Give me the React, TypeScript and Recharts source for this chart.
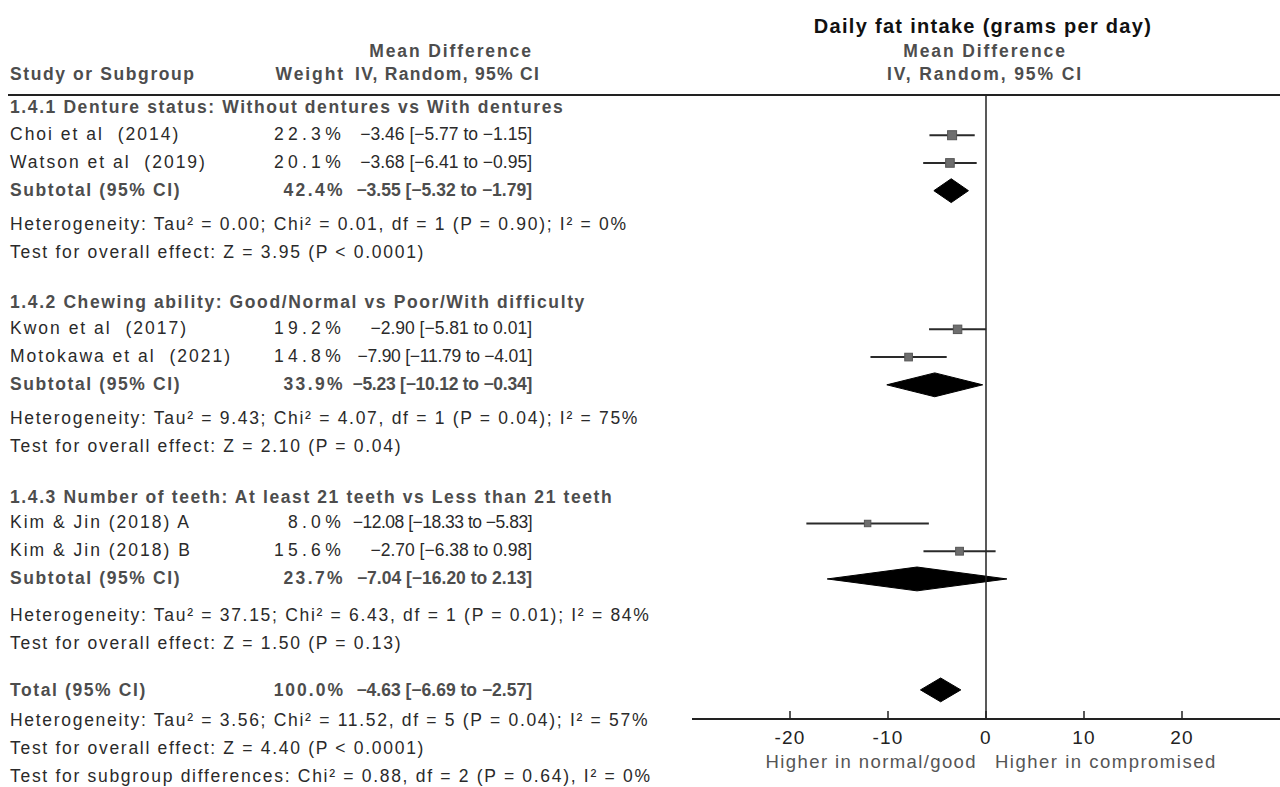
import React from "react";
import { Area, ComposedChart, ErrorBar, ReferenceLine, Scatter, XAxis, YAxis } from "recharts";

// forest plot: daily fat intake, mean difference (IV, random, 95% CI)
const groupTitles = [
  "1.4.1 Denture status: Without dentures vs With dentures",
  "1.4.2 Chewing ability: Good/Normal vs Poor/With difficulty",
  "1.4.3 Number of teeth: At least 21 teeth vs Less than 21 teeth",
];
const groupTitleRows = [0, 7, 14.05];

const studyNames = [
  "Choi et al  (2014)",
  "Watson et al  (2019)",
  "Kwon et al  (2017)",
  "Motokawa et al  (2021)",
  "Kim & Jin (2018) A",
  "Kim & Jin (2018) B",
];
const studyRows = [1, 2, 8, 9, 15, 16];
const studyWeights = [22.3, 20.1, 19.2, 14.8, 8.0, 15.6];
const studyMd = [-3.46, -3.68, -2.9, -7.9, -12.08, -2.7];
const studyLow = [-5.77, -6.41, -5.81, -11.79, -18.33, -6.38];
const studyHigh = [-1.15, -0.95, 0.01, -4.01, -5.83, 0.98];

const subtotalRows = [3, 10, 17];
const subtotalWeights = [42.4, 33.9, 23.7];
const subtotalMd = [-3.55, -5.23, -7.04];
const subtotalLow = [-5.32, -10.12, -16.2];
const subtotalHigh = [-1.79, -0.34, 2.13];

const totalRow = 21;
const totalWeight = 100.0;
const totalMd = -4.63;
const totalLow = -6.69;
const totalHigh = -2.57;

const hetTexts = [
  "Heterogeneity: Tau² = 0.00; Chi² = 0.01, df = 1 (P = 0.90); I² = 0%",
  "Heterogeneity: Tau² = 9.43; Chi² = 4.07, df = 1 (P = 0.04); I² = 75%",
  "Heterogeneity: Tau² = 37.15; Chi² = 6.43, df = 1 (P = 0.01); I² = 84%",
];
const hetRows = [4.2, 11.2, 18.3];
const effectTexts = [
  "Test for overall effect: Z = 3.95 (P < 0.0001)",
  "Test for overall effect: Z = 2.10 (P = 0.04)",
  "Test for overall effect: Z = 1.50 (P = 0.13)",
];
const effectRows = [5.2, 12.2, 19.3];
const totalNotes = [
  "Heterogeneity: Tau² = 3.56; Chi² = 11.52, df = 5 (P = 0.04); I² = 57%",
  "Test for overall effect: Z = 4.40 (P < 0.0001)",
  "Test for subgroup differences: Chi² = 0.88, df = 2 (P = 0.64), I² = 0%",
];
const totalNoteRows = [22.1, 23.1, 24.1];

const xTicks = [-20, -10, 0, 10, 20];

const W = 1280;
const H = 787;
const PLOT_LEFT = 692;
const PLOT_TOP = 95;
const PLOT_BOTTOM = 719;
const Y_MIN = -0.45;
const Y_MAX = 22.05;
const DIAMOND_HALF = 0.43;

const FONT = '"Liberation Sans", Arial, Helvetica, sans-serif';
const TEXT = "#2a2a2a";
const BOLD = "#4d4d4d";

const rowPx = (r: number) => PLOT_TOP + ((r - Y_MIN) / (Y_MAX - Y_MIN)) * (PLOT_BOTTOM - PLOT_TOP);
const fmt = (v: number) => (v < 0 ? "\u2212" : "") + Math.abs(v).toFixed(2);
const ciText = (m: number, l: number, h: number) => `${fmt(m)} [${fmt(l)} to ${fmt(h)}]`;
const pct = (w: number) => `${w.toFixed(1)}%`;
// longer CI strings are set a little tighter, as in the original
const ciSpacing = (s: string) => -Math.max(0, s.length - 22) * 0.25;

const studyPoints = studyNames.map((name, i) => ({
  name,
  x: studyMd[i],
  y: studyRows[i],
  w: studyWeights[i],
  err: [studyMd[i] - studyLow[i], studyHigh[i] - studyMd[i]],
}));

const diamond = (row: number, md: number, lo: number, hi: number) => [
  { x: lo, d: [row, row] },
  { x: md, d: [row - DIAMOND_HALF, row + DIAMOND_HALF] },
  { x: hi, d: [row, row] },
];

const pooled = [
  ...subtotalRows.map((r, i) => diamond(r, subtotalMd[i], subtotalLow[i], subtotalHigh[i])),
  diamond(totalRow, totalMd, totalLow, totalHigh),
];

function Square(props: any) {
  const { cx, cy, payload } = props;
  const s = 5 + payload.w * 0.18;
  return <rect x={cx - s / 2} y={cy - s / 2} width={s} height={s} fill="#6e6e6e" stroke="#555" strokeWidth={1} />;
}

function AxisTick(props: any) {
  const { x, y, payload } = props;
  return (
    <g>
      <line x1={x} x2={x} y1={y - 8} y2={y} stroke="#222" strokeWidth={1.5} />
      <text x={x} y={y + 25} textAnchor="middle" fill="#222" fontSize={19} letterSpacing={1.2} fontFamily={FONT}>
        {payload.value}
      </text>
    </g>
  );
}

type TProps = {
  x: number;
  y: number;
  text: string;
  align?: "left" | "right" | "center";
  bold?: boolean;
  color?: string;
  size?: number;
  spacing?: number;
};

function T({ x, y, text, align = "left", bold = false, color, size = 17.5, spacing }: TProps) {
  const style: React.CSSProperties = {
    position: "absolute",
    top: y - 12,
    height: 24,
    lineHeight: "24px",
    fontFamily: FONT,
    fontSize: size,
    fontWeight: bold ? 700 : 400,
    letterSpacing: spacing ?? (bold ? 1.6 : 1.7),
    color: color ?? (bold ? BOLD : TEXT),
    whiteSpace: "pre",
  };
  if (align === "left") style.left = x;
  if (align === "right") style.right = W - x;
  if (align === "center") {
    style.left = x - 400;
    style.width = 800;
    style.textAlign = "center";
  }
  return <div style={style}>{text}</div>;
}

export default function App() {
  const nameX = 10;
  const weightX = 345;
  const ciX = 532;
  const studyCi = studyNames.map((_, i) => ciText(studyMd[i], studyLow[i], studyHigh[i]));
  const subtotalCi = subtotalRows.map((_, i) => ciText(subtotalMd[i], subtotalLow[i], subtotalHigh[i]));
  const totalCi = ciText(totalMd, totalLow, totalHigh);
  return (
    <div style={{ position: "absolute", top: 0, left: 0, width: W, height: H, background: "#fff", overflow: "hidden" }}>
      <div style={{ position: "absolute", top: 0, left: 0 }}>
        <ComposedChart
          width={W}
          height={H}
          margin={{ top: PLOT_TOP, right: 0, bottom: H - PLOT_BOTTOM - 30, left: PLOT_LEFT }}
        >
          <XAxis
            type="number"
            dataKey="x"
            domain={[-30, 30]}
            ticks={xTicks}
            allowDataOverflow
            height={30}
            axisLine={{ stroke: "#222", strokeWidth: 2 }}
            tickLine={false}
            tickSize={0}
            tickMargin={0}
            tick={<AxisTick />}
          />
          <YAxis type="number" domain={[Y_MIN, Y_MAX]} reversed hide allowDataOverflow />
          <ReferenceLine x={0} stroke="#222" strokeWidth={1.5} />
          {pooled.map((d, i) => (
            <Area
              key={i}
              data={d}
              dataKey="d"
              type="linear"
              fill="#000"
              fillOpacity={1}
              stroke="#000"
              strokeWidth={1}
              dot={false}
              activeDot={false}
              isAnimationActive={false}
            />
          ))}
          <Scatter data={studyPoints} dataKey="y" shape={<Square />} isAnimationActive={false}>
            <ErrorBar dataKey="err" direction="x" width={0} stroke="#2a2a2a" strokeWidth={2} />
          </Scatter>
        </ComposedChart>
      </div>

      <div style={{ position: "absolute", top: PLOT_TOP - 1, left: 8, width: W - 8, borderTop: "2px solid #222" }} />

      <T x={983} y={26} text="Daily fat intake (grams per day)" align="center" bold color="#111" size={20} spacing={1.3} />
      <T x={451} y={51} text="Mean Difference" align="center" bold spacing={1.9} />
      <T x={985} y={51} text="Mean Difference" align="center" bold spacing={1.9} />
      <T x={nameX} y={74} text="Study or Subgroup" bold spacing={1.6} />
      <T x={weightX} y={74} text="Weight" align="right" bold spacing={1.9} />
      <T x={355} y={74} text="IV, Random, 95% CI" bold spacing={1.3} />
      <T x={985} y={74} text="IV, Random, 95% CI" align="center" bold spacing={1.9} />

      {groupTitles.map((t, i) => (
        <T key={t} x={nameX} y={rowPx(groupTitleRows[i])} text={t} bold spacing={1.6} />
      ))}
      {studyNames.map((n, i) => (
        <React.Fragment key={n}>
          <T x={nameX} y={rowPx(studyRows[i]) - 1} text={n} spacing={2.0} />
          <T x={weightX} y={rowPx(studyRows[i]) - 1} text={pct(studyWeights[i])} align="right" spacing={4.3} />
          <T x={ciX} y={rowPx(studyRows[i]) - 1} text={studyCi[i]} align="right" spacing={ciSpacing(studyCi[i])} />
        </React.Fragment>
      ))}
      {subtotalRows.map((r, i) => (
        <React.Fragment key={r}>
          <T x={nameX} y={rowPx(r) - 1} text="Subtotal (95% CI)" bold />
          <T x={weightX} y={rowPx(r) - 1} text={pct(subtotalWeights[i])} align="right" bold spacing={2.4} />
          <T
            x={ciX}
            y={rowPx(r) - 1}
            text={subtotalCi[i]}
            align="right"
            bold
            spacing={ciSpacing(subtotalCi[i])}
          />
        </React.Fragment>
      ))}
      {hetTexts.map((t, i) => (
        <T key={t} x={nameX} y={rowPx(hetRows[i])} text={t} />
      ))}
      {effectTexts.map((t, i) => (
        <T key={t + i} x={nameX} y={rowPx(effectRows[i])} text={t} />
      ))}

      <T x={nameX} y={rowPx(totalRow)} text="Total (95% CI)" bold />
      <T x={weightX} y={rowPx(totalRow)} text={pct(totalWeight)} align="right" bold spacing={2.0} />
      <T x={ciX} y={rowPx(totalRow)} text={totalCi} align="right" bold spacing={ciSpacing(totalCi)} />
      {totalNotes.map((t, i) => (
        <T key={t} x={nameX} y={rowPx(totalNoteRows[i])} text={t} />
      ))}

      <T x={977} y={762} text="Higher in normal/good" align="right" color="#555" size={18.5} spacing={1.4} />
      <T x={995} y={762} text="Higher in compromised" color="#555" size={18.5} spacing={1.5} />
    </div>
  );
}
